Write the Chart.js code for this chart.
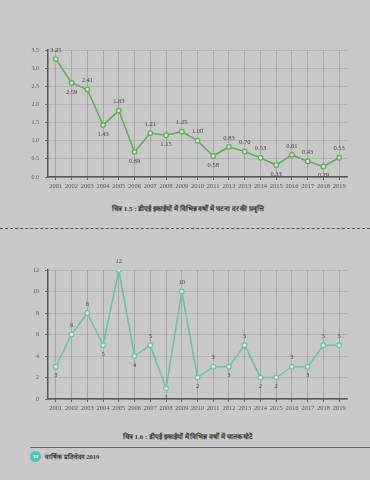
<!DOCTYPE html>
<html><head><meta charset="utf-8">
<script src="https://cdn.jsdelivr.net/npm/chart.js@4/dist/chart.umd.min.js"></script>
<style>
html,body{margin:0;padding:0;background:#c9c9c9;width:370px;height:480px;overflow:hidden;font-family:"Liberation Serif","DejaVu Serif",serif;}
.box{position:absolute;left:0;width:370px;}
.cap{position:absolute;left:0;width:376px;text-align:center;font-size:7px;font-weight:bold;color:#333;}
</style></head>
<body>
<div class="box" style="top:0;height:200px"><canvas id="c1" width="370" height="200"></canvas></div>
<div class="cap" style="top:204px">चित्र 1.5 : डीएई इकाईयों में विभिन्न वर्षों में घटना दर की प्रवृत्ति</div>
<div style="position:absolute;left:0;top:228px;width:370px;border-top:1px dashed #555"></div>
<div class="box" style="top:220px;height:200px"><canvas id="c2" width="370" height="200"></canvas></div>
<div class="cap" style="top:432px">चित्र 1.6 : डीएई इकाईयों में विभिन्न वर्षों में घातक चोटें</div>
<div style="position:absolute;left:30px;top:447px;width:340px;border-top:1px solid #666"></div>
<div style="position:absolute;left:30px;top:451px;width:11px;height:11px;border-radius:50%;background:#4dc3c0;color:#fff;font-size:5px;line-height:11px;text-align:center;font-weight:bold">10</div>
<div style="position:absolute;left:45px;top:452px;font-size:6.5px;font-weight:bold;color:#333">वार्षिक प्रतिवेदन 2019</div>
<script>
const years = ["2001","2002","2003","2004","2005","2006","2007","2008","2009","2010","2011","2012","2013","2014","2015","2016","2017","2018","2019"];
const incidenceRate = [3.25,2.59,2.41,1.43,1.83,0.69,1.21,1.15,1.25,1.00,0.58,0.83,0.70,0.53,0.33,0.61,0.43,0.29,0.53];
const fatalInjuries = [3,6,8,5,12,4,5,1,10,2,3,3,5,2,2,3,3,5,5];
const rateLabelSide = ["a","b","a","b","a","b","a","b","a","a","b","a","a","a","b","a","a","b","a"];
const fatalLabelSide = ["b","a","a","b","a","b","a","b","a","b","a","b","a","b","b","a","b","a","a"];

const labelPlugin = {
  id:'vlabels',
  afterDatasetsDraw(chart, args, o){
    const ctx = chart.ctx;
    const meta = chart.getDatasetMeta(0);
    const ds = chart.data.datasets[0].data;
    ctx.save();
    ctx.font = '6.5px "Liberation Serif", serif';
    ctx.fillStyle = '#444';
    ctx.textAlign = 'center';
    ctx.textBaseline = 'middle';
    meta.data.forEach((p,i)=>{
      const below = o.sides[i]==='b';
      ctx.fillText(Number(ds[i]).toFixed(o.decimals), p.x, p.y + (below? 9 : -9));
    });
    ctx.restore();
  }
};

function makeChart(id, data, color, fill, min, max, step, sides, decimals, top, xh, ydec){
  return new Chart(document.getElementById(id), {
    type:'line',
    data:{labels:years, datasets:[{data, borderColor:color, borderWidth:1.5, pointRadius:2.3, pointBorderWidth:1.2, pointBackgroundColor:fill, pointBorderColor:color, tension:0}]},
    options:{
      responsive:false, animation:false,
      layout:{padding:{top:top, right:23, left:0, bottom:0}},
      plugins:{legend:{display:false}, tooltip:{enabled:false}, vlabels:{sides:sides, decimals:decimals}},
      scales:{
        x:{offset:true,
           grid:{color:'rgba(110,110,110,0.45)', lineWidth:0.8, tickLength:3, tickColor:'#444', offset:false},
           border:{color:'#555', width:1.5},
           ticks:{font:{family:'"Liberation Serif", serif', size:6.5}, color:'#555', maxRotation:0, autoSkip:false, padding:2},
           afterFit(s){s.height = xh;}
        },
        y:{min:min, max:max,
           grid:{color:'rgba(120,120,120,0.35)', lineWidth:0.7, tickLength:3, tickColor:'#444'},
           border:{color:'#555', width:1.5},
           ticks:{stepSize:step, font:{family:'"Liberation Serif", serif', size:6}, color:'#555', padding:6,
                  callback:(v)=>Number(v).toFixed(ydec)},
           afterFit(s){s.width = 48;}
        }
      }
    },
    plugins:[labelPlugin]
  });
}
makeChart('c1', incidenceRate, '#56b04f', '#cdeac4', 0, 3.5, 0.5, rateLabelSide, 2, 50, 23, 1);
makeChart('c2', fatalInjuries, '#62c7a5', '#d6f0e6', 0, 12, 2, fatalLabelSide, 0, 50, 21, 0);
</script>
</body></html>
